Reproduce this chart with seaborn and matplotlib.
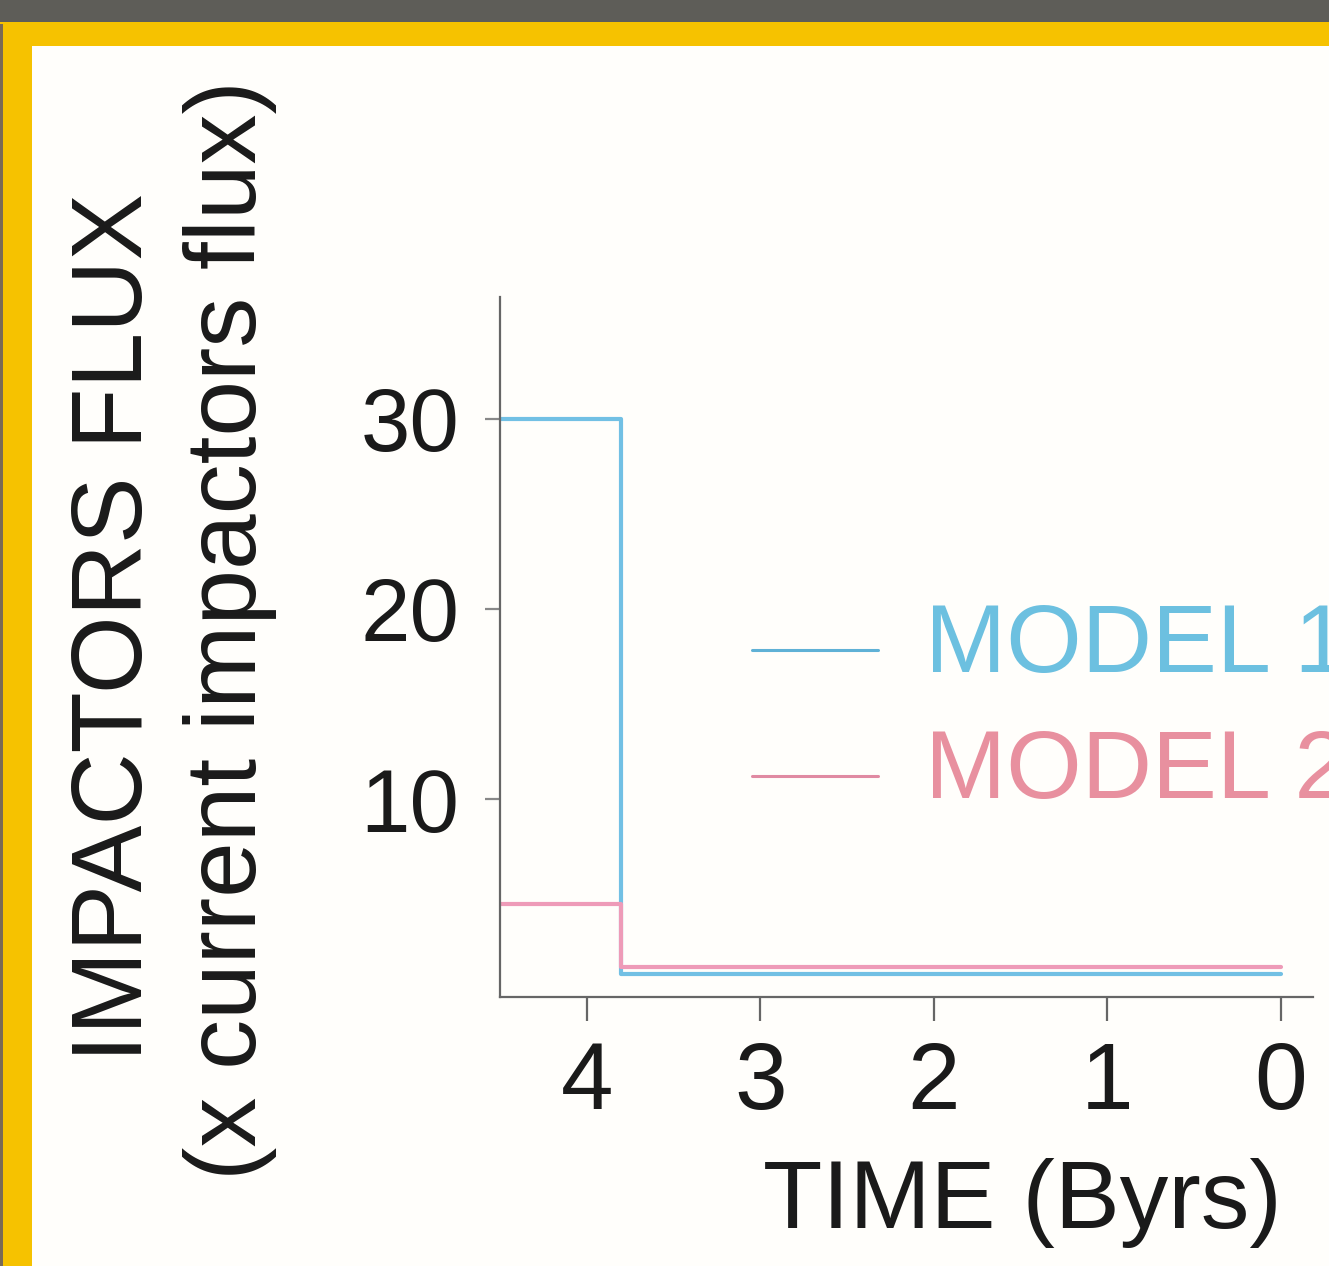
import numpy as np
import pandas as pd
import seaborn as sns
import matplotlib
matplotlib.use("Agg")
import matplotlib.pyplot as plt
from matplotlib.patches import Rectangle

# ---- data ----
model_names = ["MODEL 1", "MODEL 2"]
time_byrs = [4.5, 3.8, 0.0]
model1_flux = [30.0, 0.8, 0.8]
model2_flux = [4.5, 1.2, 1.2]
x_ticks = [4, 3, 2, 1, 0]
y_ticks = [10, 20, 30]

df = pd.DataFrame({
    "time": time_byrs * 2,
    "flux": model1_flux + model2_flux,
    "model": [model_names[0]] * 3 + [model_names[1]] * 3,
})

sns.set_theme(style="white")
plt.rcParams["font.family"] = ["Liberation Sans", "DejaVu Sans"]

W, H = 1329, 1266
fig = plt.figure(figsize=(W / 100, H / 100), dpi=100)
fig.patch.set_facecolor("#fffefb")

# frame decorations
fig.patches.append(Rectangle((0, 1 - 24 / H), 1, 24 / H, transform=fig.transFigure,
                             facecolor="#5e5d58", edgecolor="none", zorder=0))
fig.patches.append(Rectangle((0, 1 - 46 / H), 1, 24 / H, transform=fig.transFigure,
                             facecolor="#f6c200", edgecolor="none", zorder=0))
fig.patches.append(Rectangle((0, 0), 32 / W, 1 - 24 / H, transform=fig.transFigure,
                             facecolor="#f6c200", edgecolor="none", zorder=0))
fig.patches.append(Rectangle((0, 0), 3 / W, 1 - 24 / H, transform=fig.transFigure,
                             facecolor="#7a6a55", edgecolor="none", zorder=0))

ax = fig.add_axes([500 / W, 1 - 997 / H, (1313 - 500) / W, (997 - 297) / H])
ax.set_facecolor("none")

palette = {model_names[0]: "#72c0e4", model_names[1]: "#ee9bb8"}
sns.lineplot(data=df, x="time", y="flux", hue="model", palette=palette, sort=False,
             drawstyle="steps-post", linewidth=3.0, ax=ax, legend=False, estimator=None)

ax.set_xlim(4.5, -0.184)
ax.set_ylim(-0.4, 36.4)
ax.set_xticks(x_ticks)
ax.set_xticklabels([str(t) for t in x_ticks])
ax.set_yticks(y_ticks)
ax.set_yticklabels([str(t) for t in y_ticks])
ax.set_xlabel("")
ax.set_ylabel("")

for s in ["top", "right"]:
    ax.spines[s].set_visible(False)
for s in ["left", "bottom"]:
    ax.spines[s].set_color("#666666")
    ax.spines[s].set_linewidth(1.6)

ax.tick_params(axis="x", direction="out", length=17, width=1.6, color="#666666",
               labelsize=68, pad=14, labelcolor="#1a1a1a", bottom=True)
ax.tick_params(axis="y", direction="out", length=11, width=1.6, color="#888888",
               labelsize=64, pad=18, labelcolor="#1a1a1a", left=True)

# legend
legend_colors = ["#5fb1d6", "#e08aa2"]
text_colors = ["#6cc0e0", "#e8909f"]
leg_y = [650, 776]
for name, lc, tc, yy in zip(model_names, legend_colors, text_colors, leg_y):
    fig.add_artist(plt.Line2D([752 / W, 878 / W], [1 - yy / H, 1 - yy / H],
                              transform=fig.transFigure, color=lc, linewidth=2.2))
    fig.text(925 / W, 1 - (yy - 3) / H, name, color=tc, fontsize=70,
             ha="left", va="center")

# axis labels
fig.text(116 / W, 1 - 627 / H, "IMPACTORS FLUX", rotation=90, fontsize=72,
         ha="center", va="center", color="#1a1a1a")
fig.text(230 / W, 1 - 630 / H, "(x current impactors flux)", rotation=90, fontsize=72,
         ha="center", va="center", color="#1a1a1a")
fig.text(1022 / W, 1 - 1203 / H, "TIME (Byrs)", fontsize=70,
         ha="center", va="center", color="#1a1a1a")

fig.savefig("out.png", dpi=100)
